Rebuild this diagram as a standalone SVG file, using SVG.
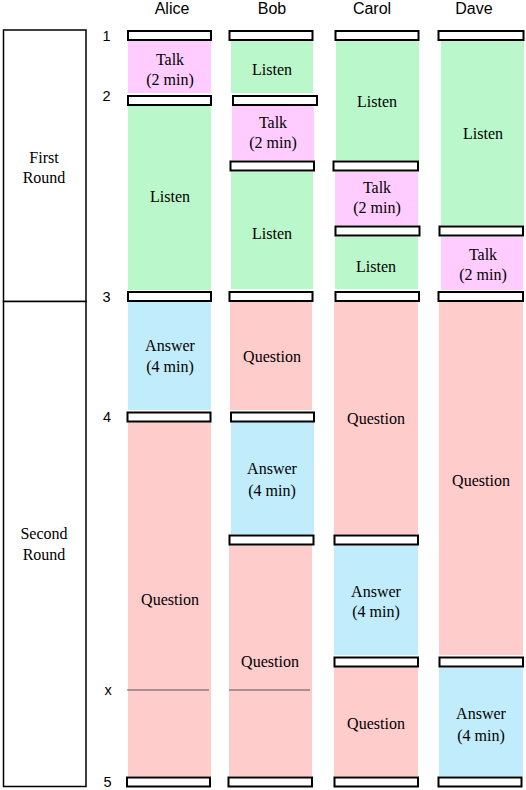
<svg xmlns="http://www.w3.org/2000/svg" width="526" height="790" viewBox="0 0 526 790">
<style>
.bar{fill:#fff;stroke:#000;stroke-width:2}
.talk{fill:#FFCCFF}
.listen{fill:#BAF7CB}
.ans{fill:#C0ECFC}
.q{fill:#FFCCCC}
.lbl{font-size:16px;text-anchor:middle;fill:#000}
.hdr{font-size:16px;text-anchor:middle;fill:#000}
.num{font-size:14.5px;text-anchor:middle;fill:#000}
.box{fill:#fff;stroke:#000;stroke-width:1.5}
</style>
<rect width="526" height="790" fill="#fff"/>
<g id="rounds" font-family="Liberation Serif, serif">
<rect class="box" x="3.5" y="30" width="82.5" height="271.5"/>
<rect class="box" x="3.5" y="301.5" width="82.5" height="485"/>
<text class="lbl" x="44" y="163">First</text>
<text class="lbl" x="44" y="183">Round</text>
<text class="lbl" x="44" y="539">Second</text>
<text class="lbl" x="44" y="560">Round</text>
</g>
<g id="headers" font-family="Liberation Sans, sans-serif">
<text class="hdr" x="172" y="13.5">Alice</text>
<text class="hdr" x="272" y="13.5">Bob</text>
<text class="hdr" x="372" y="13.5">Carol</text>
<text class="hdr" x="474" y="13.5">Dave</text>
</g>
<g id="numbers" font-family="Liberation Sans, sans-serif">
<text class="num" x="106.5" y="40.5">1</text>
<text class="num" x="106.5" y="101">2</text>
<text class="num" x="106.5" y="302">3</text>
<text class="num" x="107" y="422">4</text>
<text class="num" x="108" y="695">x</text>
<text class="num" x="107.5" y="787">5</text>
</g>
<g id="alice" font-family="Liberation Serif, serif">
<rect class="talk" x="128" y="40" width="83" height="53"/>
<rect class="listen" x="128" y="106" width="83" height="184"/>
<rect class="ans" x="128" y="302" width="83" height="108"/>
<rect class="q" x="128" y="422" width="83" height="354"/>
<line x1="127" y1="690" x2="209" y2="690" stroke="#555" stroke-width="1"/>
<rect class="bar" x="128" y="31" width="83" height="9"/>
<rect class="bar" x="128" y="96" width="83" height="9"/>
<rect class="bar" x="128" y="292" width="83" height="9"/>
<rect class="bar" x="127.5" y="412.5" width="83" height="9"/>
<rect class="bar" x="127" y="777.5" width="83" height="9"/>
<text class="lbl" x="170" y="65">Talk</text>
<text class="lbl" x="170" y="85">(2 min)</text>
<text class="lbl" x="170" y="202">Listen</text>
<text class="lbl" x="170" y="351">Answer</text>
<text class="lbl" x="170" y="372">(4 min)</text>
<text class="lbl" x="170" y="605">Question</text>
</g>
<g id="bob" font-family="Liberation Serif, serif">
<rect class="listen" x="231" y="40" width="82" height="53"/>
<rect class="talk" x="232" y="106" width="82" height="54"/>
<rect class="listen" x="231" y="172" width="82" height="117"/>
<rect class="q" x="230" y="302" width="82" height="108"/>
<rect class="ans" x="231" y="422" width="83" height="112"/>
<rect class="q" x="229" y="545" width="83" height="231"/>
<line x1="229" y1="690" x2="310" y2="690" stroke="#555" stroke-width="1"/>
<rect class="bar" x="229.5" y="31" width="83" height="9"/>
<rect class="bar" x="233" y="96" width="84" height="9"/>
<rect class="bar" x="230.5" y="161.5" width="83.5" height="9"/>
<rect class="bar" x="229.5" y="292" width="83" height="9"/>
<rect class="bar" x="231" y="412.5" width="83" height="9"/>
<rect class="bar" x="229.5" y="535.5" width="84" height="9"/>
<rect class="bar" x="228.5" y="777.5" width="83.5" height="9"/>
<text class="lbl" x="272" y="75">Listen</text>
<text class="lbl" x="273" y="128">Talk</text>
<text class="lbl" x="273" y="148">(2 min)</text>
<text class="lbl" x="272" y="239">Listen</text>
<text class="lbl" x="272" y="362">Question</text>
<text class="lbl" x="272" y="474">Answer</text>
<text class="lbl" x="272" y="496">(4 min)</text>
<text class="lbl" x="270" y="667">Question</text>
</g>
<g id="carol" font-family="Liberation Serif, serif">
<rect class="listen" x="336" y="40" width="83" height="120"/>
<rect class="talk" x="335" y="172" width="83" height="53"/>
<rect class="listen" x="335" y="237" width="83" height="52"/>
<rect class="q" x="334" y="302" width="84" height="232"/>
<rect class="ans" x="334" y="545" width="84" height="110"/>
<rect class="q" x="334" y="667" width="84" height="109"/>
<rect class="bar" x="335.5" y="31" width="83" height="9"/>
<rect class="bar" x="333.5" y="161.5" width="84.5" height="9"/>
<rect class="bar" x="335.5" y="226.5" width="84" height="9"/>
<rect class="bar" x="335.5" y="292" width="83.5" height="9"/>
<rect class="bar" x="334.5" y="535.5" width="83.5" height="9"/>
<rect class="bar" x="334.5" y="657.5" width="83.5" height="9"/>
<rect class="bar" x="334.5" y="777.5" width="83.5" height="9"/>
<text class="lbl" x="377" y="107">Listen</text>
<text class="lbl" x="377" y="193">Talk</text>
<text class="lbl" x="377" y="213">(2 min)</text>
<text class="lbl" x="376" y="272">Listen</text>
<text class="lbl" x="376" y="424">Question</text>
<text class="lbl" x="376" y="597">Answer</text>
<text class="lbl" x="376" y="617">(4 min)</text>
<text class="lbl" x="376" y="729">Question</text>
</g>
<g id="dave" font-family="Liberation Serif, serif">
<rect class="listen" x="441" y="40" width="83" height="185"/>
<rect class="talk" x="441" y="237" width="82" height="53"/>
<rect class="q" x="439" y="302" width="84" height="353"/>
<rect class="ans" x="439" y="668" width="84" height="108"/>
<rect class="bar" x="438.5" y="31" width="85" height="9"/>
<rect class="bar" x="439.5" y="226.5" width="83.5" height="9"/>
<rect class="bar" x="438.5" y="292" width="84.5" height="9"/>
<rect class="bar" x="439.5" y="657.5" width="83.5" height="9"/>
<rect class="bar" x="438.5" y="777.5" width="83" height="9"/>
<text class="lbl" x="483" y="139">Listen</text>
<text class="lbl" x="483" y="260">Talk</text>
<text class="lbl" x="483" y="280">(2 min)</text>
<text class="lbl" x="481" y="486">Question</text>
<text class="lbl" x="481" y="719">Answer</text>
<text class="lbl" x="481" y="741">(4 min)</text>
</g>
<g id="connectors"></g>
</svg>
